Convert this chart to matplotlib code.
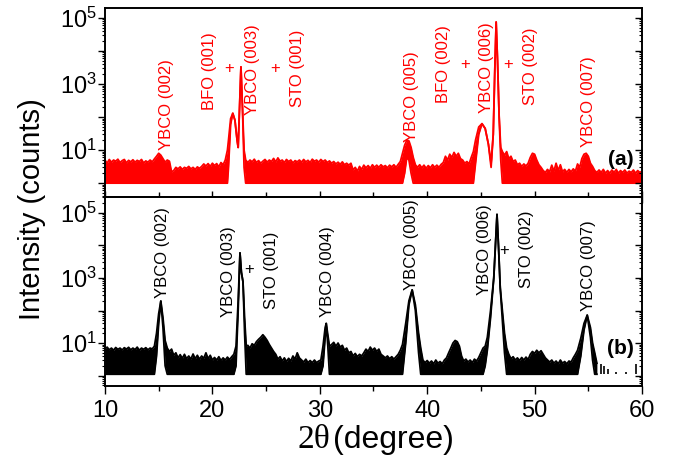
import numpy as np
import matplotlib
matplotlib.use('Agg')
import matplotlib.pyplot as plt
from matplotlib.ticker import LogLocator, FuncFormatter, MultipleLocator, NullFormatter

plt.rcParams['font.family'] = 'Liberation Sans'
plt.rcParams['mathtext.fontset'] = 'custom'
plt.rcParams['mathtext.rm'] = 'Liberation Sans'
plt.rcParams['mathtext.it'] = 'Liberation Sans:italic'
plt.rcParams['mathtext.bf'] = 'Liberation Sans:bold'

## data
# (a) red pattern: 2theta and upper envelope of the counts
tt_a = [10.0, 10.2, 10.4, 10.6, 10.8, 11.0, 11.2, 11.4, 11.6, 11.8, 12.0, 12.2, 12.4, 12.6, 12.8,
        13.0, 13.2, 13.4, 13.6, 13.8, 14.0, 14.2, 14.4, 14.6, 14.8, 15.0, 15.2, 15.4, 15.6, 15.8,
        16.0, 16.2, 16.4, 16.6, 16.8, 17.0, 17.2, 17.4, 17.6, 17.8, 18.0, 18.2, 18.4, 18.6, 18.8,
        19.0, 19.2, 19.4, 19.6, 19.8, 20.0, 20.2, 20.4, 20.6, 20.8, 21.0, 21.2,
        21.4, 21.5, 21.7, 21.9, 22.1, 22.3, 22.4, 22.55, 22.66, 22.8, 22.95,
        23.1, 23.3, 23.5, 23.7, 23.9, 24.1, 24.3, 24.5, 24.7, 24.9, 25.1, 25.3, 25.5, 25.7, 25.9,
        26.1, 26.3, 26.5, 26.7, 26.9, 27.1, 27.3, 27.5, 27.7, 27.9, 28.1, 28.3, 28.5, 28.7, 28.9,
        29.1, 29.3, 29.5, 29.7, 29.9, 30.1, 30.3, 30.5, 30.7, 30.9, 31.1, 31.3, 31.5, 31.7, 31.9,
        32.1, 32.3, 32.5, 32.7, 32.9, 33.1, 33.3, 33.5, 33.7, 33.9, 34.1, 34.3, 34.5, 34.7, 34.9,
        35.1, 35.3, 35.5, 35.7, 35.9, 36.1, 36.3, 36.5, 36.7, 36.9, 37.1, 37.3, 37.5,
        37.7, 37.9, 38.1, 38.3, 38.5, 38.7,
        38.9, 39.1, 39.3, 39.5, 39.7, 39.9, 40.1, 40.3, 40.5, 40.7, 40.9, 41.1, 41.3, 41.5, 41.7,
        41.9, 42.1, 42.3, 42.5, 42.7, 42.9, 43.1, 43.3, 43.5, 43.7, 43.9, 44.1, 44.3,
        44.5, 44.8, 45.1, 45.4, 45.7, 45.95, 46.15, 46.3, 46.42, 46.55, 46.7, 46.85,
        47.0, 47.2, 47.4, 47.6, 47.8, 48.0, 48.2, 48.4, 48.6, 48.8, 49.0, 49.2, 49.4, 49.6, 49.8,
        50.0, 50.2, 50.4, 50.6, 50.8, 51.0, 51.2, 51.4, 51.6, 51.8, 52.0, 52.2, 52.4, 52.6, 52.8,
        53.0, 53.2, 53.4, 53.6, 53.8, 54.0, 54.2, 54.4, 54.6, 54.8, 55.0, 55.2, 55.4, 55.6, 55.8,
        56.0, 56.2, 56.4, 56.6, 56.8, 57.0, 57.2, 57.4, 57.6, 57.8, 58.0, 58.2, 58.4, 58.6, 58.8,
        59.0, 59.2, 59.4, 59.6, 59.8, 60.0]
hi_a = [5, 4, 5.2, 4.3, 5, 4.6, 5.3, 4.2, 4.8, 5.2, 4.1, 4.9, 4.4, 5.1, 4.3,
        4.9, 4.5, 5.2, 4.1, 4.7, 4.3, 5, 4.4, 5.4, 6.5, 8, 7, 5.5, 4.3, 5,
        4.6, 2.2, 2.4, 3, 2.7, 3.1, 2.6, 3, 2.8, 3.2, 2.7, 3, 2.6, 3.1, 2.8,
        3.2, 3.8, 3.3, 3.9, 3.2, 4, 3.4, 3.9, 3.1, 4.2, 3.6, 5,
        10, 20, 90, 130, 80, 20, 12, 300, 3300, 200, 10,
        5, 4.2, 5, 4.4, 5.3, 4.2, 4.8, 4, 4.6, 5.2, 4.3, 5, 4.5, 5.6, 4.4,
        5.8, 4.6, 5, 4.2, 5.2, 4.5, 5, 4.1, 4.8, 4.4, 5, 4.3, 5.2, 4.4, 4.9,
        4.2, 5.3, 4.6, 5, 4.3, 5.2, 4.5, 5, 4.2, 4.7, 4, 4.5, 3.8, 4.3, 3.7,
        4.4, 3.6, 4, 3.5, 4, 2.5, 3, 2.3, 3.2, 2.6, 3.5, 2.9, 3.4, 2.8, 3.6,
        3, 3.5, 3, 3.6, 3.1, 3.4, 2.9, 3.5, 3.1, 3.6, 3, 3.7, 4.5,
        8, 14, 20, 19, 12, 6,
        3.6, 3, 3.6, 2.9, 3.5, 2.8, 3.4, 2.9, 3.6, 3, 3.5, 3, 3.7, 4.2, 6.5,
        5, 7.5, 6, 8.5, 6.5, 8, 5.5, 5, 4, 4.5, 3.8, 6, 9,
        20, 50, 63, 45, 15, 4, 30, 3000, 75000, 5000, 100, 12,
        9, 7, 9, 5.5, 6.5, 4.5, 5, 3.6, 4, 3.2, 3.8, 3.3, 4, 6, 8,
        7.5, 5, 3.6, 3, 2.4, 2.1, 2.6, 2.2, 3.5, 2.3, 4, 2.4, 3.6, 2.2, 2.6,
        2.1, 2.6, 2.2, 2.7, 2.3, 3.8, 3, 5.5, 7.5, 8, 6.5, 4, 3.2, 2.4, 2.1,
        2.5, 2.1, 2.6, 2, 2.4, 2, 2.5, 2.1, 2.6, 2, 2.4, 2.1, 2.5, 2, 2.3,
        2.1, 2.5, 2, 2.4, 2.1, 2.3]
floor_a = 1.0
# lower envelope where the trace lifts off the floor (under the peaks)
lo_raise_a = {21.5: 3, 21.7: 60, 21.9: 130, 22.1: 80, 22.3: 20, 22.4: 12, 22.55: 300,
              22.66: 3300, 22.8: 200, 22.95: 3, 37.9: 2, 38.1: 6, 38.3: 5, 38.5: 2,
              44.5: 4, 44.8: 30, 45.1: 63, 45.4: 45, 45.7: 15, 45.95: 3, 46.15: 30,
              46.3: 3000, 46.42: 75000, 46.55: 5000, 46.7: 100, 46.85: 5}

# (b) black pattern
tt_b = [10.0, 10.2, 10.4, 10.6, 10.8, 11.0, 11.2, 11.4, 11.6, 11.8, 12.0, 12.2, 12.4, 12.6, 12.8,
        13.0, 13.2, 13.4, 13.6, 13.8, 14.0, 14.2, 14.4, 14.6,
        14.8, 15.0, 15.2, 15.4, 15.6,
        15.8, 16.0, 16.2, 16.4, 16.6, 16.8, 17.0, 17.2, 17.4, 17.6, 17.8, 18.0, 18.2, 18.4, 18.6,
        18.8, 19.0, 19.2, 19.4, 19.6, 19.8, 20.0, 20.2, 20.4, 20.6, 20.8, 21.0, 21.2, 21.4, 21.6,
        21.8, 22.0,
        22.2, 22.4, 22.57, 22.7, 22.85, 23.0, 23.15,
        23.3, 23.5, 23.7, 23.9, 24.1, 24.3, 24.5, 24.7, 24.9, 25.1, 25.3, 25.5, 25.7, 25.9, 26.1,
        26.3, 26.5, 26.7, 26.9, 27.1, 27.3, 27.5, 27.7, 27.9, 28.1, 28.3, 28.5, 28.7, 28.9, 29.1,
        29.3, 29.5, 29.7, 29.9, 30.1,
        30.3, 30.5, 30.6, 30.75, 30.9,
        31.1, 31.3, 31.5, 31.7, 31.9, 32.1, 32.3, 32.5, 32.7, 32.9, 33.1, 33.3, 33.5, 33.7, 33.9,
        34.1, 34.3, 34.5, 34.7, 34.9, 35.1, 35.3, 35.5, 35.7, 35.9, 36.1, 36.3, 36.5, 36.7, 36.9,
        37.1, 37.3, 37.5,
        37.7, 38.0, 38.3, 38.6, 38.9, 39.2, 39.4,
        39.6, 39.8, 40.0, 40.2, 40.4, 40.6, 40.8, 41.0, 41.2, 41.4, 41.6, 41.8, 42.0, 42.2, 42.4,
        42.6, 42.8, 43.0, 43.2, 43.4, 43.6, 43.8, 44.0, 44.2, 44.4, 44.6, 44.8, 45.0, 45.2,
        45.4, 45.6, 45.9, 46.2, 46.35, 46.5, 46.65, 46.8, 47.0, 47.2, 47.4,
        47.6, 47.8, 48.0, 48.2, 48.4, 48.6, 48.8, 49.0, 49.2, 49.4, 49.6, 49.8, 50.0, 50.2, 50.4,
        50.6, 50.8, 51.0, 51.2, 51.4, 51.6, 51.8, 52.0, 52.2, 52.4, 52.6, 52.8, 53.0, 53.2, 53.4,
        53.6, 53.8,
        54.0, 54.3, 54.6, 54.9, 55.2, 55.4, 55.6, 55.8]
hi_b = [6.5, 7.5, 6.2, 7, 6, 7.3, 6.4, 7, 6.1, 7.2, 6.5, 7.4, 6.2, 7, 6.3,
        7.5, 6, 7, 6.4, 7.2, 6.2, 7, 6.6, 8,
        20, 80, 195, 60, 12,
        7, 5.5, 6.5, 4.2, 5, 3.5, 4.4, 3.4, 4.5, 3.3, 4, 3.2, 4.6, 3.3, 4.2,
        3.2, 4, 3.4, 5, 3.3, 4.2, 3, 3.6, 3, 3.8, 2.9, 3.5, 3, 3.7, 3.1,
        3.8, 4.5,
        8, 200, 5900, 1500, 760, 60, 8,
        8.5, 7, 9.5, 8.5, 11, 13, 15, 18, 15, 12, 9, 7, 5.5, 4.5, 3.2,
        3.8, 2.8, 3.5, 2.7, 3.4, 2.8, 4, 3.2, 5, 3.5, 3, 2.6, 3.2, 2.5, 2.9,
        2.5, 3, 2.5, 2.8, 3,
        8, 30, 40, 18, 8,
        9, 10.5, 8, 10, 7.5, 8.5, 6, 7, 5, 5.5, 4, 4.8, 3.8, 4.5, 4,
        5, 6.5, 5.5, 7.5, 6, 7, 5.5, 6.5, 4.5, 4, 3.5, 4, 3.3, 3.8, 3.2,
        3.8, 4.5, 6,
        9, 40, 200, 430, 150, 20, 7,
        3, 2.5, 2.9, 2.4, 2.8, 2.3, 3, 2.4, 2.7, 2.3, 3, 3.5, 5, 7, 10,
        12, 11, 8, 4, 2.8, 3.2, 2.6, 3, 2.5, 3.2, 2.8, 3.6, 5, 7,
        8, 15, 100, 1000, 10000, 90000, 8000, 500, 100, 20, 7,
        4.5, 3.3, 3.8, 3, 3.5, 2.9, 3.6, 3, 3.7, 3.1, 4.5, 5.5, 4.8, 6, 5,
        5.8, 4.5, 3.5, 3, 2.6, 3, 2.4, 2.8, 2.3, 3, 2.4, 2.7, 2.3, 2.8, 2.6,
        3.5, 4.5,
        6, 14, 40, 72, 30, 10, 5, 2.4]
floor_b = 1.1
lo_raise_b = {14.8: 4, 15.0: 40, 15.2: 195, 15.4: 30, 15.6: 2,
              22.2: 2, 22.4: 100, 22.57: 5900, 22.7: 1500, 22.85: 760, 23.0: 20,
              30.3: 2, 30.5: 15, 30.6: 40, 30.75: 8,
              38.0: 10, 38.3: 150, 38.6: 430, 38.9: 100, 39.2: 5,
              45.4: 2, 45.6: 6, 45.9: 60, 46.2: 1000, 46.35: 10000, 46.5: 90000,
              46.65: 8000, 46.8: 500, 47.0: 50, 47.2: 5,
              54.3: 4, 54.6: 25, 54.9: 72, 55.2: 15, 55.4: 3}

# isolated counts beyond 56 deg in (b)
tt_b_dots = [56.2, 56.5, 56.8, 57.6, 58.5, 59.4]
hi_b_dots = [2.2, 2.0, 1.6, 1.3, 1.3, 2.2]

## peak labels: text, 2theta, intensity of label bottom
labels_a = [('YBCO (002)', 15.7, 10), ('BFO (001)', 19.7, 162), ('YBCO (003)', 23.7, 115),
            ('STO (001)', 27.9, 200), ('YBCO (005)', 38.5, 17.5), ('BFO (002)', 41.5, 265),
            ('YBCO (006)', 45.5, 130), ('STO (002)', 49.6, 230), ('YBCO (007)', 55.0, 12.3)]
plus_a = [(21.6, 3000), (25.8, 3000), (43.5, 3800), (47.5, 3800)]
labels_b = [('YBCO (002)', 15.4, 240), ('YBCO (003)', 21.5, 63), ('STO (001)', 25.5, 112),
            ('YBCO (004)', 30.7, 63), ('YBCO (005)', 38.5, 425), ('YBCO (006)', 45.3, 300),
            ('STO (002)', 49.2, 490), ('YBCO (007)', 55.0, 96)]
plus_b = [(23.4, 1800), (47.2, 6800)]

lo_a = [lo_raise_a.get(x, floor_a) for x in tt_a]
lo_b = [lo_raise_b.get(x, floor_b) for x in tt_b]

fig = plt.figure(figsize=(6.76, 4.65), dpi=100)
ax1 = fig.add_axes([0.1553, 0.5763, 0.7944, 0.4065])
ax2 = fig.add_axes([0.1553, 0.1699, 0.7944, 0.4065])
ylims = [(10 ** -0.42, 10 ** 5.3), (10 ** -0.32, 10 ** 5.49)]


def log_label(v, pos):
    e = int(round(np.log10(v)))
    if e in (1, 3, 5):
        return '$10^{%d}$' % e
    return ''


def set_log_ticks(ax):
    ax.set_yscale('log')
    ax.yaxis.set_major_locator(LogLocator(base=10, numticks=12))
    ax.yaxis.set_minor_locator(LogLocator(base=10, subs=np.arange(2, 10), numticks=12))
    ax.yaxis.set_minor_formatter(NullFormatter())


for ax, tt, hi, lo, col, yl in [(ax1, tt_a, hi_a, lo_a, '#ff0000', ylims[0]),
                                (ax2, tt_b, hi_b, lo_b, 'black', ylims[1])]:
    ax.fill_between(tt, lo, hi, color=col, lw=0)
    ax.plot(tt, hi, color=col, lw=1.3)
    ax.plot(tt, lo, color=col, lw=1.3)
    set_log_ticks(ax)
    ax.yaxis.set_major_formatter(FuncFormatter(log_label))
    ax.set_xlim(10, 60)
    ax.set_ylim(*yl)
    ax.xaxis.set_major_locator(MultipleLocator(10))
    ax.xaxis.set_minor_locator(MultipleLocator(5))
    ax.tick_params(axis='y', which='both', direction='out', right=False, labelsize=17, pad=1)
    ax.tick_params(axis='y', which='major', length=5, width=1)
    ax.tick_params(axis='y', which='minor', length=2.5, width=0.8)
    for s in ax.spines.values():
        s.set_linewidth(1.2)
    # right side ticks pointing in
    tw = ax.twinx()
    set_log_ticks(tw)
    tw.set_ylim(*yl)
    tw.yaxis.set_major_formatter(NullFormatter())
    tw.tick_params(axis='y', which='both', direction='in')
    tw.tick_params(axis='y', which='major', length=5, width=1)
    tw.tick_params(axis='y', which='minor', length=2.5, width=0.8)
    for s in tw.spines.values():
        s.set_linewidth(1.2)

ax2.vlines(tt_b_dots, floor_b, hi_b_dots, color='black', lw=1.2)

ax1.tick_params(axis='x', which='both', direction='inout', labelbottom=False, top=False)
ax1.tick_params(axis='x', which='major', length=9, width=1)
ax1.tick_params(axis='x', which='minor', length=7, width=1)
ax2.tick_params(axis='x', which='both', direction='out', top=False, labelsize=17, pad=4)
ax2.tick_params(axis='x', which='major', length=6, width=1)
ax2.tick_params(axis='x', which='minor', length=3.5, width=1)

for txt, x, y in labels_a:
    ax1.text(x, y, txt, rotation=90, ha='center', va='bottom', fontsize=12, color='#ff0000')
for x, y in plus_a:
    ax1.text(x, y, '+', ha='center', va='center', fontsize=12, color='#ff0000')
for txt, x, y in labels_b:
    ax2.text(x, y, txt, rotation=90, ha='center', va='bottom', fontsize=12, color='black')
for x, y in plus_b:
    ax2.text(x, y, '+', ha='center', va='center', fontsize=12, color='black')

ax1.text(0.985, 0.20, '(a)', transform=ax1.transAxes, ha='right', va='center',
         fontsize=15, fontweight='bold')
ax2.text(0.985, 0.20, '(b)', transform=ax2.transAxes, ha='right', va='center',
         fontsize=15, fontweight='bold')

fig.text(32 / 676, 1 - 209 / 465, 'Intensity (counts)', rotation=90, ha='center', va='center',
         fontsize=21)
fig.text(330 / 676, 1 - 448 / 465, '2\u03b8', ha='right', va='baseline', fontsize=24,
         family='Liberation Serif')
fig.text(333 / 676, 1 - 448 / 465, '(degree)', ha='left', va='baseline', fontsize=23)

fig.savefig('out.png', dpi=100)
